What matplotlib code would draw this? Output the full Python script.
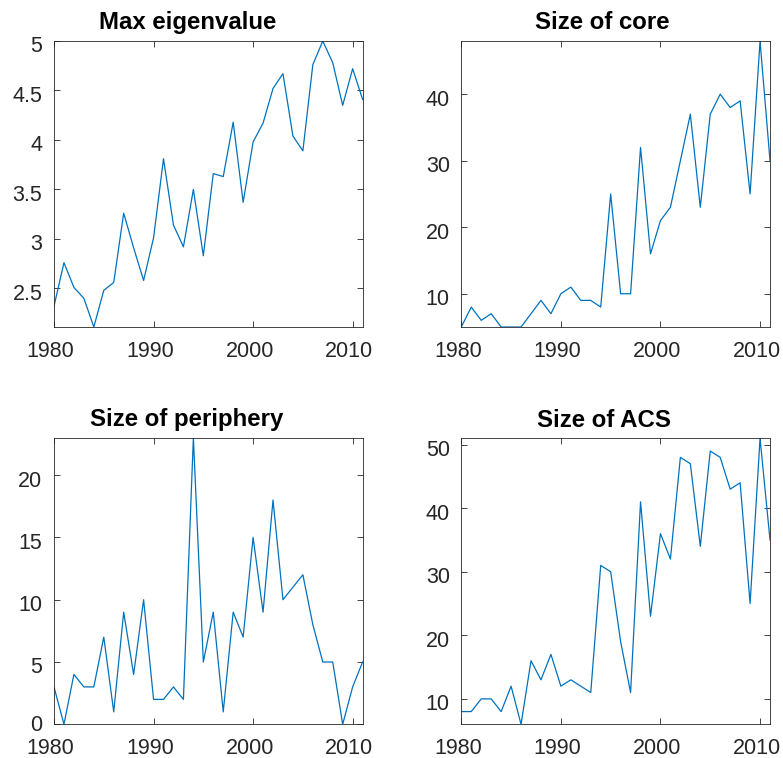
import matplotlib
matplotlib.use("Agg")
import matplotlib.pyplot as plt
import matplotlib.transforms as mtransforms

years = list(range(1980, 2012))
max_eigenvalue = [2.32, 2.76, 2.51, 2.40, 2.11, 2.48, 2.56, 3.26, 2.91, 2.58,
                  3.01, 3.81, 3.14, 2.92, 3.50, 2.83, 3.66, 3.63, 4.18, 3.37,
                  3.98, 4.17, 4.52, 4.67, 4.04, 3.89, 4.76, 5.00, 4.78, 4.35,
                  4.72, 4.41]
core_size = [5, 8, 6, 7, 5, 5, 5, 7, 9, 7, 10, 11, 9, 9, 8, 25, 10, 10, 32, 16,
             21, 23, 30, 37, 23, 37, 40, 38, 39, 25, 48, 30]
periphery_size = [3, 0, 4, 3, 3, 7, 1, 9, 4, 10, 2, 2, 3, 2, 23, 5, 9, 1, 9, 7,
                  15, 9, 18, 10, 11, 12, 8, 5, 5, 0, 3, 5]
acs_size = [8, 8, 10, 10, 8, 12, 6, 16, 13, 17, 12, 13, 12, 11, 31, 30, 19, 11,
            41, 23, 36, 32, 48, 47, 34, 49, 48, 43, 44, 25, 51, 35]

titles = ["Max eigenvalue", "Size of core", "Size of periphery", "Size of ACS"]
series = [max_eigenvalue, core_size, periphery_size, acs_size]
yticks = [[2.5, 3, 3.5, 4, 4.5, 5], [10, 20, 30, 40], [0, 5, 10, 15, 20],
          [10, 20, 30, 40, 50]]
yticklabels = [["2.5", "3", "3.5", "4", "4.5", "5"], None, None, None]
xticks = [1980, 1990, 2000, 2010]

plt.rcParams['font.family'] = ['Liberation Sans', 'DejaVu Sans']

W, H = 783, 758
fig = plt.figure(figsize=(W / 100, H / 100), dpi=100)

# axes boxes in pixels: left, right, top, bottom
boxes = [(54, 362.6, 41, 327), (461.3, 770, 41, 327),
         (54, 362.6, 437.7, 724.3), (461.3, 770, 438.3, 724.3)]
# horizontal title offsets (pixels) as seen in the reference
title_dx = [-21, -13, -22, -12]

x_shift = mtransforms.ScaledTranslation(-3.5 / 100, 0, fig.dpi_scale_trans)
y_shift = mtransforms.ScaledTranslation(0, -3.5 / 100, fig.dpi_scale_trans)
y_up = mtransforms.ScaledTranslation(0, 1.0 / 100, fig.dpi_scale_trans)

for i, (l, r, t, b) in enumerate(boxes):
    ax = fig.add_axes([l / W, 1 - b / H, (r - l) / W, (b - t) / H])
    ys = series[i]
    ax.plot(years, ys, color='#0072BD', lw=0.9)
    ax.set_xlim(years[0], years[-1])
    ax.set_ylim(min(ys), max(ys))
    ax.set_xticks(xticks)
    ax.set_yticks(yticks[i])
    if yticklabels[i] is not None:
        ax.set_yticklabels(yticklabels[i])
    ax.tick_params(direction='in', top=True, right=True, length=4, width=0.6,
                   colors='#262626', labelsize=15.5)
    ax.tick_params(axis='x', pad=10)
    ax.tick_params(axis='y', pad=8.3)
    for lab in ax.get_xticklabels():
        lab.set_transform(lab.get_transform() + x_shift)
    ylabs = ax.get_yticklabels()
    for k, lab in enumerate(ylabs):
        if yticks[i][k] == min(ys):
            # label sitting on the bottom edge: keep it clear of the x labels
            lab.set_transform(lab.get_transform() + y_up)
        else:
            lab.set_transform(lab.get_transform() + y_shift)
    for sp in ax.spines.values():
        sp.set_color('#262626')
        sp.set_linewidth(0.6)
    ttl = ax.set_title(titles[i], fontsize=17.3, fontweight='bold', pad=8.4)
    ttl.set_x(0.5 + title_dx[i] / (r - l))

fig.savefig("out.png", dpi=100)
